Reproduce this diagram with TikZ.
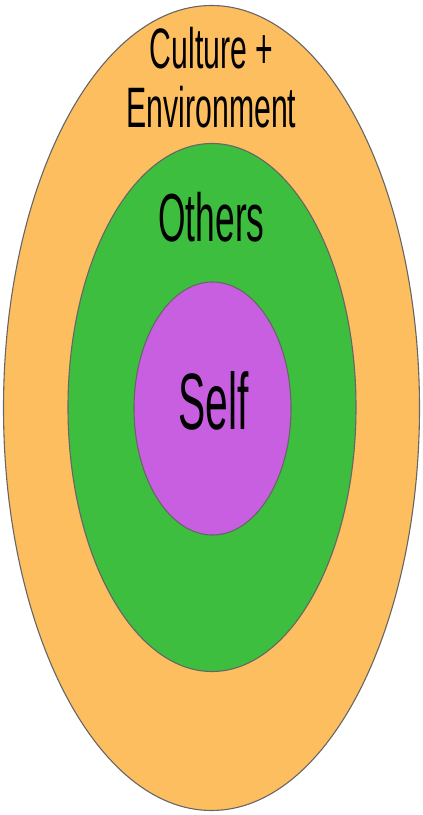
\documentclass[tikz,border=0pt]{standalone}
\usepackage{fontspec}
\setmainfont{Liberation Sans}
\usetikzlibrary{shapes.geometric}
\definecolor{orangefill}{RGB}{253,190,95}
\definecolor{greenfill}{RGB}{62,190,62}
\definecolor{purplefill}{RGB}{200,95,225}
\begin{document}
\begin{tikzpicture}[x=1pt,y=1pt,
  ring/.style={ellipse, inner sep=0pt, outer sep=0pt, draw=black!60, line width=1.1pt},
  label/.style={anchor=base, inner sep=0pt, text=black}]
\useasboundingbox (0,0) rectangle (423,815);
\node[ring, fill=orangefill, minimum width=416pt, minimum height=805pt] (outer) at (211.5,407) {};
\node[ring, fill=greenfill, minimum width=288pt, minimum height=528pt] (middle) at (212,407.5) {};
\node[ring, fill=purplefill, minimum width=157pt, minimum height=253pt] (inner) at (212.5,406.5) {};
\node[label] (culture) at (211.5,746) {\fontsize{57}{60}\selectfont\scalebox{0.53}[1]{Culture +}};
\node[label] (env) at (211.5,687) {\fontsize{57}{60}\selectfont\scalebox{0.53}[1]{Environment}};
\node[label] (others) at (211.5,573) {\fontsize{68}{72}\selectfont\scalebox{0.52}[1]{Others}};
\node[label] (self) at (213.5,385) {\fontsize{80}{84}\selectfont\scalebox{0.51}[1]{Self}};
\end{tikzpicture}
\end{document}
